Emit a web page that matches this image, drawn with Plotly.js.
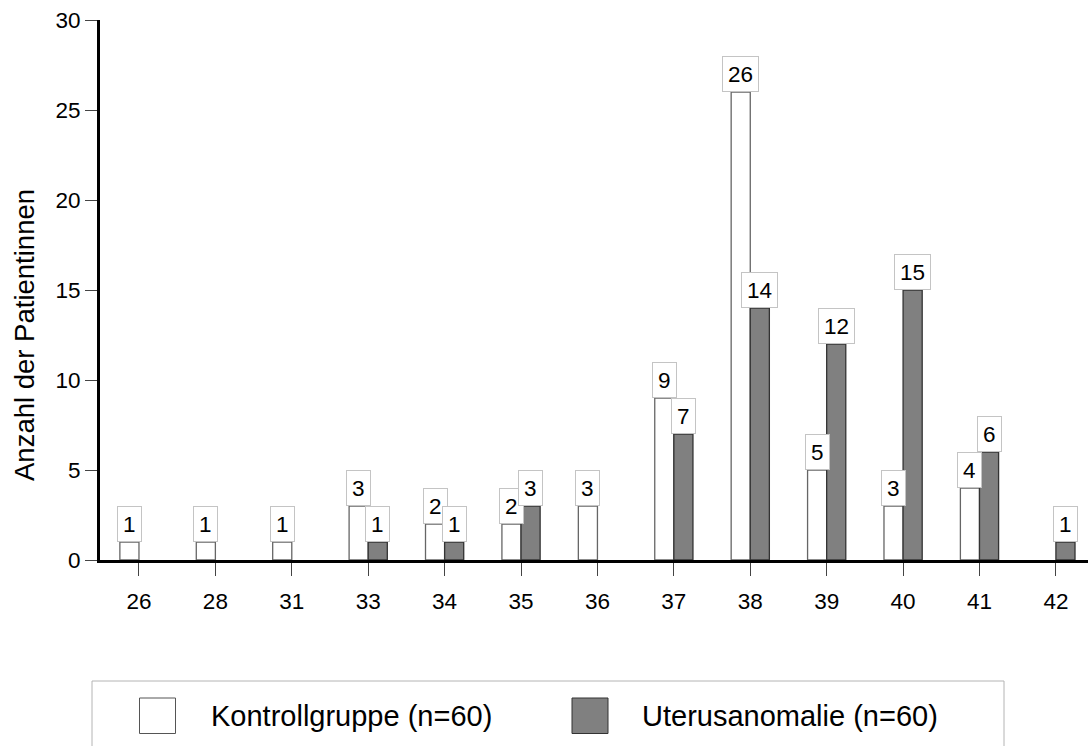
<!DOCTYPE html>
<html>
<head>
<meta charset="utf-8">
<script src="https://cdn.plot.ly/plotly-3.0.1.min.js"></script>
<style>html,body{margin:0;padding:0;background:#fff;}#chart{width:1088px;height:746px;}</style>
</head>
<body>
<div id="chart"></div>
<script>
var categories = ["26","28","31","33","34","35","36","37","38","39","40","41","42"];
var kontrollgruppe = [1,1,1,3,2,2,3,9,26,5,3,4,0];
var uterusanomalie = [0,0,0,1,1,3,0,7,14,12,15,6,1];
var seriesNames = ["Kontrollgruppe (n=60)", "Uterusanomalie (n=60)"];
var yTicks = [0,5,10,15,20,25,30];
var yTitle = "Anzahl der Patientinnen";

var W = 1088, H = 746;
var M = {l:100, r:0, t:20, b:186};
var PW = W - M.l - M.r, PH = H - M.t - M.b;
function px(x){ return (x - M.l) / PW; }
function py(y){ return (H - M.b - y) / PH; }

var FONT = "'Liberation Sans', Arial, Helvetica, sans-serif";
var barW = 0.25;
function nz(v){ return v > 0 ? v : null; }

var traces = [
  {type:'bar', name:seriesNames[0], x:categories, y:kontrollgruppe.map(nz), width:barW, offset:-barW,
   marker:{color:'#ffffff', line:{color:'#666666', width:1.3}}, showlegend:false, hoverinfo:'x+y'},
  {type:'bar', name:seriesNames[1], x:categories, y:uterusanomalie.map(nz), width:barW, offset:0,
   marker:{color:'#808080', line:{color:'#333333', width:1.3}}, showlegend:false, hoverinfo:'x+y'}
];

var annotations = [];
function addLabels(vals, off){
  vals.forEach(function(v, i){
    if (v > 0) {
      annotations.push({x: i + off, y: v, xref:'x', yref:'y', text: String(v), showarrow:false,
        xanchor:'center', yanchor:'bottom', bgcolor:'#ffffff', bordercolor:'#c4c4c4', borderwidth:1,
        borderpad:5, height:24, font:{family:FONT, size:22.5, color:'#000'}});
    }
  });
}
addLabels(kontrollgruppe, -barW/2);
addLabels(uterusanomalie, barW/2);

annotations.push({xref:'paper', yref:'paper', x:px(25), y:py(335), text:yTitle, textangle:-90,
  showarrow:false, xanchor:'center', yanchor:'middle', font:{family:FONT, size:27.5, color:'#000'}});

annotations.push({xref:'paper', yref:'paper', x:px(209), y:py(716), text:seriesNames[0],
  showarrow:false, xanchor:'left', yanchor:'middle', font:{family:FONT, size:29, color:'#000'}});
annotations.push({xref:'paper', yref:'paper', x:px(640), y:py(716), text:seriesNames[1],
  showarrow:false, xanchor:'left', yanchor:'middle', font:{family:FONT, size:29, color:'#000'}});

var shapes = [
  {type:'rect', xref:'paper', yref:'paper', x0:px(92), x1:px(1004), y0:py(681), y1:py(770),
   line:{color:'#b4b4b4', width:1}, fillcolor:'rgba(0,0,0,0)'},
  {type:'rect', xref:'paper', yref:'paper', x0:px(139.5), x1:px(175.5), y0:py(698), y1:py(733.5),
   line:{color:'#555555', width:1}, fillcolor:'#ffffff'},
  {type:'rect', xref:'paper', yref:'paper', x0:px(572), x1:px(608), y0:py(698), y1:py(733.5),
   line:{color:'#333333', width:1}, fillcolor:'#808080'}
];

var layout = {
  width:W, height:H, margin:M,
  paper_bgcolor:'#fff', plot_bgcolor:'#fff',
  barmode:'overlay', showlegend:false,
  font:{family:FONT, color:'#000'},
  xaxis:{type:'category', range:[-0.51, 12.42], showgrid:false, zeroline:false,
    showline:true, linecolor:'#000', linewidth:3, ticks:'outside', ticklen:13, tickwidth:1,
    tickcolor:'#444', ticklabelstandoff:6, tickfont:{family:FONT, size:22.5, color:'#000'}, automargin:false, fixedrange:true},
  yaxis:{range:[0,30], tickvals:yTicks, showgrid:false, zeroline:false,
    showline:true, linecolor:'#000', linewidth:3, ticks:'outside', ticklen:12, tickwidth:1,
    tickcolor:'#444', tickfont:{family:FONT, size:22.5, color:'#000'}, automargin:false, fixedrange:true},
  annotations:annotations, shapes:shapes
};

Plotly.newPlot('chart', traces, layout, {displayModeBar:false, staticPlot:true});
</script>
</body>
</html>
